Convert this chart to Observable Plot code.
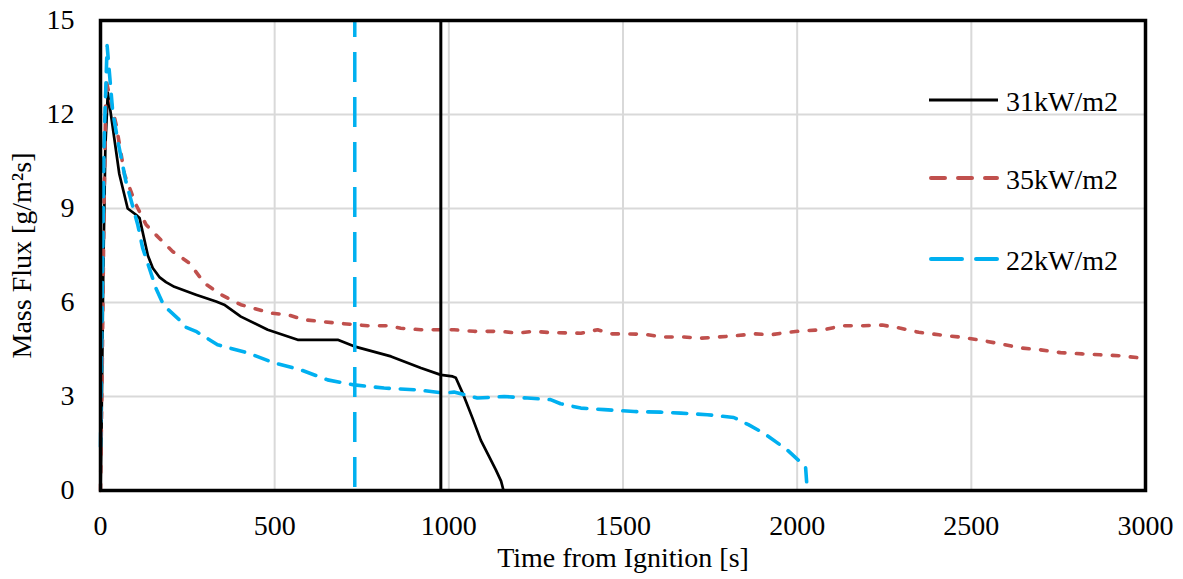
<!DOCTYPE html>
<html>
<head>
<meta charset="utf-8">
<script src="https://cdn.jsdelivr.net/npm/d3@7"></script>
<script src="https://cdn.jsdelivr.net/npm/@observablehq/plot@0.6"></script>
<style>
  html, body { margin: 0; padding: 0; background: #fff; }
  #wrap { position: relative; width: 1183px; height: 579px; overflow: hidden; font-family: "Liberation Serif", "Times New Roman", serif; }
  #legend { position: absolute; left: 925px; top: 0; }
  .lg { position: absolute; left: 0; width: 260px; height: 40px; }
  .lg svg { position: absolute; left: 0; top: 0; }
  .lg span { position: absolute; left: 81px; top: 2px; font-size: 28px; line-height: 36px; color: #000; white-space: nowrap; }
</style>
</head>
<body>
<div id="wrap">
  <div id="chart"></div>
  <div id="legend"></div>
</div>
<script>
// ---- Data ----
const t31 = [0, 3, 8, 14, 21, 35, 54, 78, 102, 112, 136, 150, 170, 188, 212, 274, 332, 355, 403, 480, 566, 681, 728, 834, 920, 977, 1011, 1020, 1040, 1068, 1092, 1115, 1135, 1150, 1157];
const v31 = [0, 2, 7, 11, 12.7, 11.6, 10.1, 9.0, 8.8, 8.7, 7.5, 7.1, 6.8, 6.65, 6.5, 6.25, 6.03, 5.93, 5.55, 5.13, 4.81, 4.81, 4.6, 4.28, 3.91, 3.69, 3.64, 3.6, 3.1, 2.31, 1.6, 1.1, 0.66, 0.3, 0];

const t35 = [0, 5, 10, 16, 30, 45, 69, 102, 131, 159, 207, 255, 298, 346, 403, 489, 537, 585, 681, 767, 824, 862, 920, 1015, 1073, 1149, 1197, 1240, 1292, 1379, 1427, 1465, 1560, 1613, 1675, 1723, 1775, 1823, 1876, 1924, 1967, 2019, 2077, 2129, 2191, 2244, 2297, 2349, 2407, 2464, 2521, 2583, 2641, 2698, 2756, 2818, 2870, 2928, 2985, 3000];
const v35 = [0, 4, 9, 13.1, 12.4, 11.67, 10.08, 9.12, 8.48, 8.16, 7.63, 7.26, 6.62, 6.25, 5.93, 5.66, 5.61, 5.45, 5.34, 5.26, 5.26, 5.18, 5.13, 5.13, 5.08, 5.08, 5.02, 5.08, 5.04, 5.02, 5.13, 5.0, 4.99, 4.9, 4.9, 4.86, 4.9, 4.94, 5.0, 4.97, 5.04, 5.1, 5.13, 5.26, 5.26, 5.28, 5.18, 5.05, 4.97, 4.9, 4.81, 4.68, 4.55, 4.49, 4.4, 4.36, 4.33, 4.3, 4.23, 4.22];

const t22 = [0, 5, 10, 19, 35, 50, 73, 107, 121, 140, 159, 182, 226, 241, 274, 336, 423, 499, 575, 652, 728, 814, 910, 987, 1015, 1082, 1159, 1226, 1292, 1321, 1379, 1446, 1532, 1608, 1666, 1742, 1818, 1860, 1904, 1971, 2010, 2019, 2024, 2029];
const v22 = [1.4, 6, 11, 14.2, 12.1, 11.14, 9.86, 8.48, 7.74, 7.1, 6.46, 5.9, 5.45, 5.23, 5.08, 4.65, 4.39, 4.07, 3.85, 3.53, 3.37, 3.27, 3.21, 3.11, 3.14, 2.95, 3.0, 2.95, 2.9, 2.77, 2.63, 2.58, 2.52, 2.5, 2.47, 2.42, 2.33, 2.1, 1.83, 1.3, 0.9, 0.82, 0.77, 0];

const marker22 = [730];
const marker31 = [977];

const xTicks = [0, 500, 1000, 1500, 2000, 2500, 3000];
const yTicks = [0, 3, 6, 9, 12, 15];

const seriesNames = ["31kW/m2", "35kW/m2", "22kW/m2"];
const seriesColors = ["#000000", "#C0504D", "#00B0F0"];

// ---- Build tables ----
const d31 = t31.map((t, i) => ({t, v: v31[i]}));
const d35 = t35.map((t, i) => ({t, v: v35[i]}));
const d22 = t22.map((t, i) => ({t, v: v22[i]}));

const chart = Plot.plot({
  width: 1183,
  height: 579,
  marginLeft: 100,
  marginRight: 38,
  marginTop: 20,
  marginBottom: 89,
  style: {fontFamily: "Liberation Serif", fontSize: "28px", color: "#000", background: "#fff", overflow: "visible"},
  x: {domain: [0, 3000]},
  y: {domain: [0, 15]},
  marks: [
    Plot.gridX(xTicks.slice(1, -1), {stroke: "#d9d9d9", strokeOpacity: 1, strokeWidth: 2}),
    Plot.gridY(yTicks.slice(1, -1), {stroke: "#d9d9d9", strokeOpacity: 1, strokeWidth: 2}),
    Plot.axisX(xTicks, {tickSize: 0, tickPadding: 25, fontSize: 28, tickFormat: d => String(d), label: "Time from Ignition [s]", labelAnchor: "center", labelArrow: "none", labelOffset: 76}),
    Plot.axisY(yTicks, {tickSize: 0, tickPadding: 26, fontSize: 28, tickFormat: d => String(d), label: "Mass Flux [g/m²s]", labelAnchor: "center", labelArrow: "none", labelOffset: 89}),
    Plot.line(d31, {x: "t", y: "v", stroke: seriesColors[0], strokeWidth: 2.7, curve: "linear"}),
    Plot.line(d35, {x: "t", y: "v", stroke: seriesColors[1], strokeWidth: 3.6, strokeDasharray: "6.5,11.5", strokeLinecap: "round", curve: "linear"}),
    Plot.line(d22, {x: "t", y: "v", stroke: seriesColors[2], strokeWidth: 3.6, strokeDasharray: "14,11", strokeLinecap: "round", curve: "linear"}),
    Plot.ruleX(marker22, {stroke: seriesColors[2], strokeWidth: 3.5, strokeDasharray: "30,15", strokeDashoffset: 13}),
    Plot.ruleX(marker31, {stroke: seriesColors[0], strokeWidth: 3}),
    Plot.frame({stroke: "#000", strokeWidth: 3.5})
  ]
});
document.getElementById("chart").appendChild(chart);

// ---- Legend ----
const legendTops = [82, 160, 241];
const legendDash = ["", "14,13", "31,14"];
const legendCap = ["butt", "round", "round"];
const legend = document.getElementById("legend");
seriesNames.forEach((name, i) => {
  const row = document.createElement("div");
  row.className = "lg";
  row.style.top = legendTops[i] + "px";
  row.innerHTML = `<svg width="80" height="40"><line x1="${i ? 6 : 4}" x2="${i ? 72 : 73}" y1="18" y2="18" stroke="${seriesColors[i]}" stroke-width="${i ? 4 : 3}" stroke-linecap="${legendCap[i]}" ${legendDash[i] ? `stroke-dasharray="${legendDash[i]}"` : ""}/></svg><span>${name}</span>`;
  legend.appendChild(row);
});
</script>
</body>
</html>
